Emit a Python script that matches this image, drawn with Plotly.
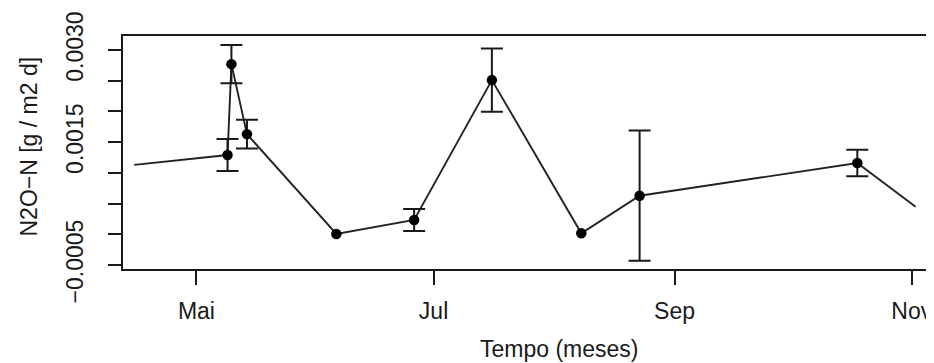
import plotly.graph_objects as go

# ---- data ----
dates = ["2013-04-15", "2013-05-09", "2013-05-10", "2013-05-14", "2013-06-06",
         "2013-06-26", "2013-07-16", "2013-08-08", "2013-08-23", "2013-10-18",
         "2013-11-02"]
n2o_n = [0.00113, 0.00129, 0.00277, 0.00163, 0.000005,
         0.000233, 0.00251, 0.000016, 0.000628, 0.00116,
         0.000449]
err = [None, 0.00026, 0.00031, 0.000235, None,
       0.00018, 0.000516, None, 0.00106, 0.000215,
       None]
has_marker = [False, True, True, True, True, True, True, True, True, True, False]

x_tick_vals = ["2013-05-01", "2013-07-01", "2013-09-01", "2013-11-01"]
x_tick_text = ["Mai", "Jul", "Sep", "Nov"]
y_tick_vals = [-0.0005, 0.0, 0.0005, 0.0010, 0.0015, 0.0020, 0.0025, 0.0030]
y_tick_text = ["\u22120.0005", "", "", "", "0.0015", "", "", "0.0030"]

x_title = "Tempo (meses)"
y_title = "N2O\u2212N [g / m2 d]"

FONT = "Liberation Sans, Arial, sans-serif"
INK = "#1a1a1a"

# page body has an 8px margin: figure occupies page pixels 8..934 / 8..363
W, H = 926, 355
L, T, B = 115, 28, 94
PW = W - L
PH = H - T - B


def px_x(page_x):
    return (page_x - 8 - L) / PW


def px_y(page_y):
    return (H - B - (page_y - 8)) / PH


fig = go.Figure()

# connecting line through every observation
fig.add_trace(go.Scatter(x=dates, y=n2o_n, mode="lines",
                         line=dict(color="#222222", width=1.9),
                         hoverinfo="skip", showlegend=False))

# points with error bars
ie = [i for i in range(len(dates)) if err[i] is not None and has_marker[i]]
fig.add_trace(go.Scatter(
    x=[dates[i] for i in ie], y=[n2o_n[i] for i in ie], mode="markers",
    marker=dict(color="black", size=10.5),
    error_y=dict(type="data", array=[err[i] for i in ie], visible=True,
                 color=INK, thickness=2, width=11),
    showlegend=False))

# points without error bars
ine = [i for i in range(len(dates)) if err[i] is None and has_marker[i]]
fig.add_trace(go.Scatter(
    x=[dates[i] for i in ine], y=[n2o_n[i] for i in ine], mode="markers",
    marker=dict(color="black", size=10.5), showlegend=False))

fig.update_layout(
    width=W, height=H,
    margin=dict(l=L, r=0, t=T, b=B, pad=0),
    paper_bgcolor="white", plot_bgcolor="white",
    font=dict(family=FONT, size=23, color=INK),
    xaxis=dict(
        type="date",
        range=["2013-04-12 02:40", "2013-11-06 17:30"],
        tickmode="array", tickvals=x_tick_vals, ticktext=x_tick_text,
        ticks="outside", ticklen=14, tickwidth=2, tickcolor=INK,
        showline=True, linecolor=INK, linewidth=2, mirror=True,
        showgrid=False, zeroline=False,
        ticklabelstandoff=6,
        tickfont=dict(family=FONT, size=23, color=INK),
    ),
    yaxis=dict(
        range=[-0.000565, 0.003228],
        tickmode="array", tickvals=y_tick_vals, ticktext=y_tick_text,
        ticks="outside", ticklen=13, tickwidth=2, tickcolor=INK,
        showline=True, linecolor=INK, linewidth=2, mirror=False,
        showgrid=False, zeroline=False,
        tickangle=-90,
        ticklabelstandoff=16,
        tickfont=dict(family=FONT, size=23, color=INK),
    ),
    annotations=[
        dict(text=x_title, xref="paper", yref="paper",
             x=px_x(559), y=px_y(349),
             xanchor="center", yanchor="middle", showarrow=False,
             font=dict(family=FONT, size=23, color=INK)),
        dict(text=y_title, xref="paper", yref="paper",
             x=px_x(28), y=px_y(146.5),
             xanchor="center", yanchor="middle", showarrow=False,
             textangle=-90,
             font=dict(family=FONT, size=23, color=INK)),
    ],
)

fig.write_html("out.html")
